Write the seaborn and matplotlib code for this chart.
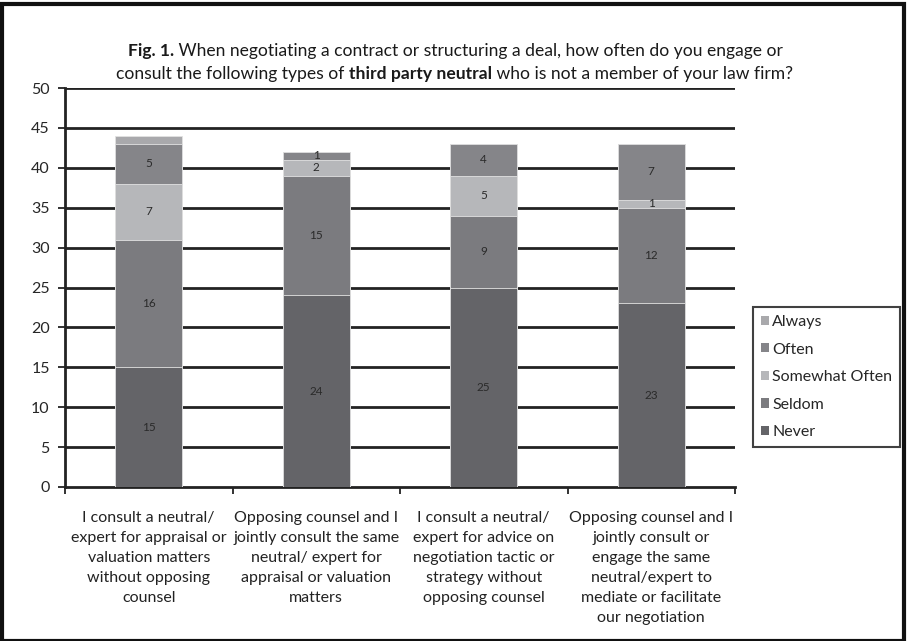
import matplotlib
matplotlib.use("Agg")
import matplotlib.pyplot as plt
import seaborn as sns
import numpy as np
import pandas as pd
from matplotlib.patches import Rectangle, Patch

categories = [
    "I consult a neutral/\nexpert for appraisal or\nvaluation matters\nwithout opposing\ncounsel",
    "Opposing counsel and I\njointly consult the same\nneutral/ expert for\nappraisal or valuation\nmatters",
    "I consult a neutral/\nexpert for advice on\nnegotiation tactic or\nstrategy without\nopposing counsel",
    "Opposing counsel and I\njointly consult or\nengage the same\nneutral/expert to\nmediate or facilitate\nour negotiation",
]
series_names = ["Never", "Seldom", "Somewhat Often", "Often", "Always"]
never = [15, 24, 25, 23]
seldom = [16, 15, 9, 12]
somewhat_often = [7, 2, 5, 1]
often = [5, 1, 4, 7]
always = [1, 0, 0, 0]
yticks = list(range(0, 55, 5))

colors = {
    "Never": "#646468",
    "Seldom": "#7b7b7f",
    "Somewhat Often": "#b6b7ba",
    "Often": "#858589",
    "Always": "#a9a9ac",
}

sns.set_theme(style="white")
plt.rcParams["font.family"] = ["Lato", "DejaVu Sans"]

fig = plt.figure(figsize=(9.08, 6.41), dpi=100)
ax = fig.add_axes([65 / 908, 1 - 487 / 641, (735 - 65) / 908, (487 - 88) / 641])

series = [never, seldom, somewhat_often, often, always]
cum = np.cumsum(np.array(series), axis=0)
xlabels = [f"c{i}" for i in range(len(categories))]

# draw from the tallest cumulative down so lower segments overlay
for k in range(len(series_names) - 1, -1, -1):
    df = pd.DataFrame({"cat": xlabels, "val": cum[k]})
    sns.barplot(data=df, x="cat", y="val", color=colors[series_names[k]],
                saturation=1, width=0.4, ax=ax, edgecolor="#e2e2e2",
                linewidth=0.6, zorder=3)

# segment labels (all but Always)
for k in range(4):
    for i in range(len(categories)):
        v = series[k][i]
        if v > 0:
            bottom = cum[k][i] - v
            ax.text(i, bottom + v / 2, str(v), ha="center", va="center",
                    fontsize=8.5, color="#2a2a2a", zorder=5)

ax.set_ylim(0, 50)
ax.set_xlim(-0.5, len(categories) - 0.5)
ax.set_yticks(yticks)
ax.set_yticklabels([str(t) for t in yticks], fontsize=11.5)
for t in yticks[1:]:
    ax.axhline(t, color="#222222", lw=2, zorder=1)

ax.set_xticks(np.arange(-0.5, len(categories), 1.0))
ax.set_xticklabels([])
ax.tick_params(axis="x", direction="out", length=5, width=1.3, color="#222222", bottom=True)
ax.tick_params(axis="y", direction="out", length=5, width=1.3, color="#222222", left=True, pad=6)
for i, c in enumerate(categories):
    ax.text(i, -3.0, c, ha="center", va="top", fontsize=11.5, linespacing=1.55,
            color="#222222")

for s in ["top", "right"]:
    ax.spines[s].set_visible(False)
for s in ["left", "bottom"]:
    ax.spines[s].set_color("#222222")
    ax.spines[s].set_linewidth(2)
ax.set_xlabel("")
ax.set_ylabel("")

# legend
order = ["Always", "Often", "Somewhat Often", "Seldom", "Never"]
handles = [Patch(facecolor=colors[n], edgecolor="none") for n in order]
leg = fig.legend(handles, order, loc="upper left",
                 bbox_to_anchor=(745 / 908, 1 - 299 / 641),
                 frameon=True, fancybox=False, fontsize=11.5,
                 handlelength=0.5, handleheight=0.5, handletextpad=0.2,
                 labelspacing=0.85, borderpad=0.5)
leg.get_frame().set_edgecolor("#111111")
leg.get_frame().set_linewidth(1.5)

# title with bold fragments
def draw_line(fragments, y, size=12.6):
    fig.canvas.draw()
    r = fig.canvas.get_renderer()
    texts = []
    for txt, w in fragments:
        t = fig.text(0, y, txt, fontsize=size, fontweight=w, ha="left",
                     va="baseline", color="#1a1a1a")
        texts.append(t)
    widths = [t.get_window_extent(r).width for t in texts]
    total = sum(widths)
    start = 455 - total / 2
    for t, wd in zip(texts, widths):
        t.set_x(start / 908)
        start += wd

draw_line([("Fig. 1.", "bold"),
           (" When negotiating a contract or structuring a deal, how often do you engage or", "normal")],
          1 - 56 / 641)
draw_line([("consult the following types of ", "normal"), ("third party neutral", "bold"),
           (" who is not a member of your law firm?", "normal")],
          1 - 79 / 641)

fig.patches.append(Rectangle((0.002, 0.0), 0.994, 0.994, transform=fig.transFigure,
                             fill=False, edgecolor="#111111", lw=3))

fig.savefig("out.png", dpi=100)
